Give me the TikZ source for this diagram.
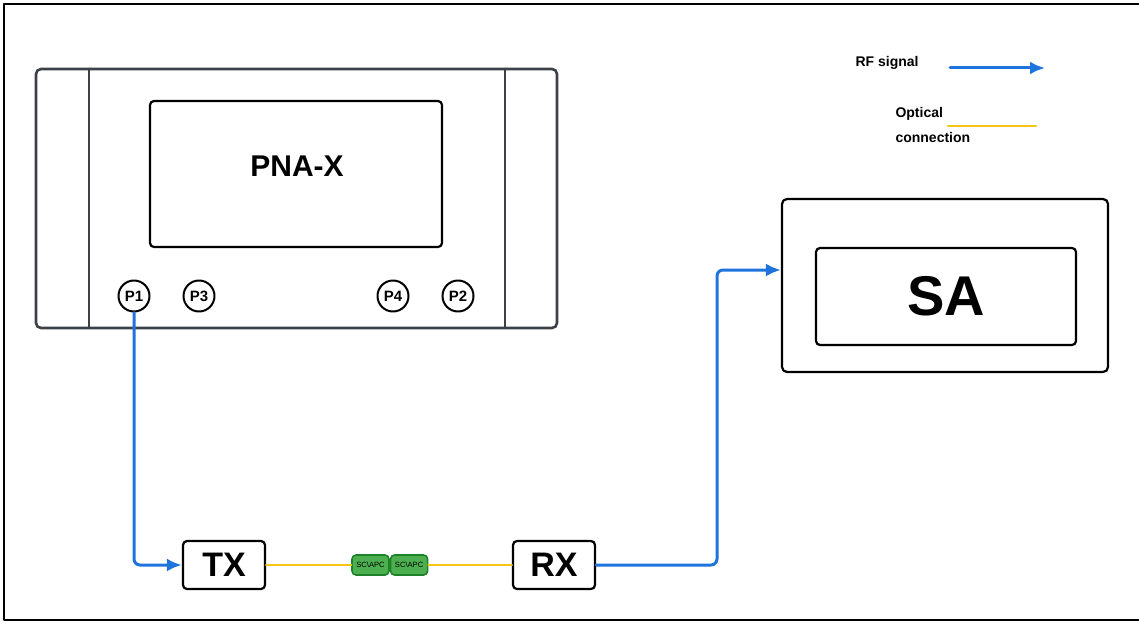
\documentclass[tikz,border=0pt]{standalone}
\usepackage{fontspec}
\setmainfont{Liberation Sans}
\usetikzlibrary{arrows.meta,positioning}
\definecolor{rfblue}{RGB}{30,115,220}
\definecolor{optyellow}{RGB}{245,197,24}
\definecolor{pnagray}{RGB}{60,64,72}
\definecolor{scgreen}{RGB}{76,175,80}
\definecolor{scdark}{RGB}{30,130,40}
\tikzset{
  rfline/.style={rfblue, line width=3pt, rounded corners=6pt, -{Latex[length=15pt,width=13pt]}},
  optline/.style={optyellow, line width=2.6pt},
  port/.style={circle, draw, line width=2pt, inner sep=0pt, minimum size=31pt, font=\fontsize{15}{17}\selectfont\bfseries},
  unit/.style={draw, line width=2.2pt, rounded corners=4pt, minimum width=82pt, minimum height=48pt, font=\fontsize{34}{36}\selectfont\bfseries},
  scbox/.style={draw=scdark, fill=scgreen, line width=1.6pt, rounded corners=4pt, minimum width=37pt, minimum height=20pt, inner sep=0pt, font=\fontsize{7.6}{8}\selectfont},
  legend/.style={anchor=west, align=left, font=\fontsize{14}{25}\selectfont\bfseries}
}
\begin{document}
\begin{tikzpicture}[x=1pt, y=-1pt, line join=round, line cap=round]
\useasboundingbox (0,0) rectangle (1139,623);
% cadre
\draw[line width=2pt] (4,4) rectangle (1142,620);
% PNA-X
\draw[pnagray, line width=2.6pt, rounded corners=5pt] (36,69) rectangle (557,328);
\draw[pnagray, line width=2.6pt] (89,69) -- (89,328) (505,69) -- (505,328);
\node[draw, line width=2.2pt, rounded corners=4pt, minimum width=292pt, minimum height=146pt] (screen) at (296,174) {};
\node[font=\fontsize{30}{32}\selectfont\bfseries] (pnalabel) at (297,166) {PNA-X};
% ports
\node[port] (p1) at (134,296) {P1};
\node[port] (p3) at (199,296) {P3};
\node[port] (p4) at (393,296) {P4};
\node[port] (p2) at (458,296) {P2};
% TX / RX
\node[unit] (tx) at (224,565) {TX};
\node[unit] (rx) at (554,565) {RX};
\node[scbox] (sc1) at (370.5,565) {SC\textbackslash APC};
\node[scbox, right=0pt of sc1] (sc2) {SC\textbackslash APC};
% SA
\node[draw, line width=2.2pt, rounded corners=5pt, minimum width=326pt, minimum height=173pt] (sa) at (945,285.5) {};
\node[draw, line width=2.2pt, rounded corners=4pt, minimum width=260pt, minimum height=97pt, font=\fontsize{56}{60}\selectfont\bfseries] (sascreen) at (946,296.5) {SA};
\coordinate (sain) at (sa.west |- 0,270);
% liaisons
\draw[rfline] (p1.south) |- (tx.west);
\draw[optline] (tx.east) -- (sc1.west);
\draw[optline] (sc2.east) -- (rx.west);
\draw[rfline] (rx.east) -| (717,270) -- (sain);
% legende
\node[legend] (rflabel) at (852,63) {RF signal};
\coordinate (rfa) at (950,68);
\coordinate (rfb) at (1045,68);
\draw[rfline] (rfa) -- (rfb);
\node[legend] (optlabel) at (892,125) {Optical\\connection};
\coordinate (opta) at (948,126);
\coordinate (optb) at (1036,126);
\draw[optline] (opta) -- (optb);
\end{tikzpicture}
\end{document}
